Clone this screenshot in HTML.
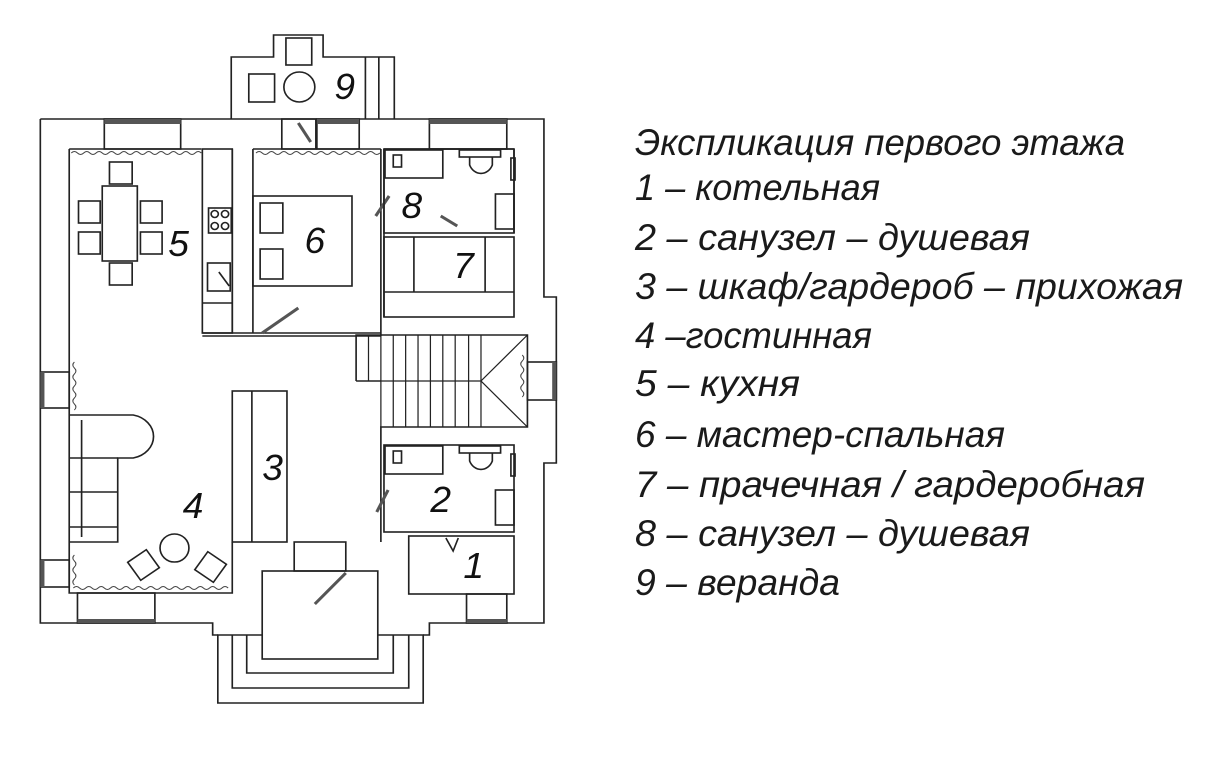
<!DOCTYPE html>
<html><head><meta charset="utf-8"><style>
html,body{margin:0;padding:0;background:#fff}
svg{display:block}
.t{font-family:"Liberation Sans","DejaVu Sans",sans-serif;font-style:italic;font-size:37px;fill:#1a1a1a}
.n{font-family:"Liberation Sans",sans-serif;font-style:italic;font-size:36px;fill:#111}
</style></head><body>
<svg width="1226" height="758" viewBox="0 0 1226 758" xmlns="http://www.w3.org/2000/svg">
<g transform="translate(30 0) scale(1.032 1) translate(-30 0)">
<g fill="none" stroke="#222" stroke-width="1.6">
<!-- veranda -->
<path d="M225 119 V57 H266 V35 H314 V57 H383 V119"/>
<line x1="355" y1="57" x2="355" y2="119"/><line x1="368" y1="57" x2="368" y2="119"/>
<rect x="278" y="38" width="25" height="27"/><rect x="242" y="74" width="25" height="28"/>
<circle cx="291" cy="87" r="15"/>
<!-- outer wall -->
<path d="M40 119 H528 V297 H540 V463 H528 V623 H417 V635 H411"/>
<path d="M40 119 V623 H207 V635 H212"/>
<!-- inner walls -->
<path d="M68 149 V593 H226 V542"/>
<line x1="68" y1="149" x2="196" y2="149"/>
<line x1="246" y1="149" x2="370" y2="149"/>
<line x1="373" y1="149" x2="499" y2="149"/>
<path d="M499 149 V233"/>
<!-- windows top -->
<rect x="102" y="119" width="74" height="30"/><rect x="308" y="119" width="41" height="30"/><rect x="417" y="119" width="75" height="30"/>
<rect x="274" y="119" width="33" height="30"/>
<!-- kitchen -->
<rect x="197" y="149" width="29" height="184"/>
<line x1="197" y1="303" x2="226" y2="303"/>
<rect x="203" y="208" width="22" height="25"/>
<circle cx="209" cy="214" r="3.5"/><circle cx="219" cy="214" r="3.5"/><circle cx="209" cy="226" r="3.5"/><circle cx="219" cy="226" r="3.5"/>
<rect x="202" y="263" width="22" height="28"/><line x1="213" y1="272" x2="223" y2="286"/>
<line x1="226" y1="149" x2="226" y2="333"/><line x1="246" y1="149" x2="246" y2="333"/>
<!-- dining -->
<rect x="100" y="186" width="34" height="75"/>
<rect x="107" y="162" width="22" height="22"/><rect x="107" y="263" width="22" height="22"/>
<rect x="77" y="201" width="21" height="22"/><rect x="77" y="232" width="21" height="22"/>
<rect x="137" y="201" width="21" height="22"/><rect x="137" y="232" width="21" height="22"/>
<!-- bedroom -->
<rect x="246" y="196" width="96" height="90"/>
<rect x="253" y="203" width="22" height="30"/><rect x="253" y="249" width="22" height="30"/>
<line x1="197" y1="333" x2="370" y2="333"/><line x1="197" y1="336" x2="370" y2="336"/>
<line x1="370" y1="149" x2="370" y2="336"/><line x1="373" y1="149" x2="373" y2="317"/>
<line x1="255" y1="333" x2="290" y2="308" stroke-width="3" stroke="#555"/>
<line x1="365" y1="216" x2="378" y2="196" stroke-width="3" stroke="#555"/>
<line x1="290" y1="123" x2="302" y2="142" stroke-width="3" stroke="#555"/>
<!-- bath 8 -->
<rect x="373" y="149" width="126" height="84"/>
<rect x="374" y="150" width="56" height="28"/><rect x="382" y="155" width="8" height="12"/>
<rect x="446" y="150" width="40" height="7"/><path d="M456 157 V165 A12 14 0 0 0 478 165 V157"/>
<rect x="481" y="194" width="18" height="35"/><rect x="496" y="158" width="4" height="22"/>
<line x1="428" y1="216" x2="444" y2="226" stroke-width="3" stroke="#555"/>
<!-- room 7 -->
<rect x="373" y="237" width="126" height="80"/>
<line x1="402" y1="237" x2="402" y2="292"/><line x1="471" y1="237" x2="471" y2="292"/><line x1="373" y1="292" x2="499" y2="292"/>
<!-- stairs -->
<path d="M346 381 V335 H512 V427 H370 V542"/>
<line x1="346" y1="381" x2="370" y2="381"/>
<g stroke-width="1.2">
<line x1="358" y1="335" x2="358" y2="381"/><line x1="370" y1="335" x2="370" y2="427"/><line x1="382" y1="335" x2="382" y2="427"/><line x1="394" y1="335" x2="394" y2="427"/><line x1="406" y1="335" x2="406" y2="427"/><line x1="418" y1="335" x2="418" y2="427"/><line x1="430" y1="335" x2="430" y2="427"/><line x1="442" y1="335" x2="442" y2="427"/><line x1="455" y1="335" x2="455" y2="427"/><line x1="467" y1="335" x2="467" y2="427"/>
<line x1="370" y1="381" x2="467" y2="381"/>
<path d="M512 335 L467 381 L512 427"/>
</g>
<rect x="512" y="362" width="28" height="38"/>
<!-- left windows -->
<rect x="40" y="372" width="28" height="36"/><rect x="40" y="560" width="28" height="27"/>
<!-- sofa -->
<path d="M68 415 H130 A25 22 0 0 1 130 458 H115 V542 H68"/>
<line x1="80" y1="420" x2="80" y2="537"/><line x1="68" y1="458" x2="115" y2="458"/><line x1="68" y1="492" x2="115" y2="492"/><line x1="68" y1="527" x2="115" y2="527"/>
<circle cx="170" cy="548" r="14"/>
<rect x="-11" y="-11" width="22" height="22" transform="translate(140 565) rotate(-35)"/>
<rect x="-11" y="-11" width="22" height="22" transform="translate(205 567) rotate(35)"/>
<!-- cabinet 3 -->
<rect x="226" y="391" width="53" height="151"/><line x1="245" y1="391" x2="245" y2="542"/>
<!-- room 2 -->
<rect x="373" y="445" width="126" height="87"/>
<rect x="374" y="446" width="56" height="28"/><rect x="382" y="451" width="8" height="12"/>
<rect x="446" y="446" width="40" height="7"/><path d="M456 453 V461 A12 14 0 0 0 478 461 V453"/>
<rect x="481" y="490" width="18" height="35"/><rect x="496" y="454" width="4" height="22"/>
<line x1="366" y1="512" x2="377" y2="490" stroke-width="3" stroke="#555"/>
<!-- room 1 -->
<rect x="397" y="536" width="102" height="58"/>
<path d="M433 538 L440 551 L445 538"/>
<!-- bottom windows -->
<rect x="76" y="593" width="75" height="30"/><rect x="453" y="594" width="39" height="29"/>
<!-- entrance -->
<rect x="286" y="542" width="50" height="29"/>
<rect x="255" y="571" width="112" height="88"/>
<line x1="306" y1="604" x2="336" y2="573" stroke-width="3" stroke="#555"/>
<path d="M255 635 H212 V703 H411 V635 H367"/>
<path d="M226 635 V688 H397 V635"/><path d="M240 635 V673 H382 V635"/>
</g>
<!-- dark window bands -->
<g fill="#555">
<rect x="102" y="119" width="74" height="5"/><rect x="308" y="119" width="41" height="5"/><rect x="417" y="119" width="75" height="5"/>
<rect x="76" y="619" width="75" height="4"/><rect x="453" y="619" width="39" height="4"/>
<rect x="40" y="372" width="4" height="36"/><rect x="40" y="560" width="4" height="27"/><rect x="536" y="362" width="4" height="38"/>
</g>
<!-- curtains -->
<g fill="none" stroke="#444" stroke-width="1">
<path d="M70 153 q3 -3 6 0 t6 0 t6 0 t6 0 t6 0 t6 0 t6 0 t6 0 t6 0 t6 0 t6 0 t6 0 t6 0 t6 0 t6 0 t6 0 t6 0 t6 0 t6 0 t6 0 t6 0"/>
<path d="M249 153 q3 -3 6 0 t6 0 t6 0 t6 0 t6 0 t6 0 t6 0 t6 0 t6 0 t6 0 t6 0 t6 0 t6 0 t6 0 t6 0 t6 0 t6 0 t6 0 t6 0 t6 0"/>
<path d="M72 588 q3 -3 6 0 t6 0 t6 0 t6 0 t6 0 t6 0 t6 0 t6 0 t6 0 t6 0 t6 0 t6 0 t6 0 t6 0 t6 0 t6 0 t6 0 t6 0 t6 0 t6 0 t6 0 t6 0 t6 0 t6 0 t6 0"/>
<path d="M73 362 q-3 3 0 6 t0 6 t0 6 t0 6 t0 6 t0 6 t0 6 t0 6"/>
<path d="M73 555 q-3 3 0 6 t0 6 t0 6 t0 6 t0 6"/>
<path d="M507 355 q3 3 0 6 t0 6 t0 6 t0 6 t0 6 t0 6 t0 6"/>
</g>
<!-- room numbers -->
<text class="n" x="325" y="99">9</text>
<text class="n" x="164" y="256">5</text>
<text class="n" x="296" y="253">6</text>
<text class="n" x="390" y="218">8</text>
<text class="n" x="440" y="278">7</text>
<text class="n" x="255" y="480">3</text>
<text class="n" x="178" y="518">4</text>
<text class="n" x="418" y="512">2</text>
<text class="n" x="450" y="578">1</text>
</g>
<!-- legend -->
<text class="t" x="635" y="155" textLength="490" lengthAdjust="spacingAndGlyphs">Экспликация первого этажа</text>
<text class="t" x="635" y="200" textLength="245" lengthAdjust="spacingAndGlyphs">1 – котельная</text>
<text class="t" x="635" y="250" textLength="395" lengthAdjust="spacingAndGlyphs">2 – санузел – душевая</text>
<text class="t" x="635" y="299" textLength="548" lengthAdjust="spacingAndGlyphs">3 – шкаф/гардероб – прихожая</text>
<text class="t" x="635" y="348" textLength="237" lengthAdjust="spacingAndGlyphs">4 –гостинная</text>
<text class="t" x="635" y="396" textLength="165" lengthAdjust="spacingAndGlyphs">5 – кухня</text>
<text class="t" x="635" y="447" textLength="370" lengthAdjust="spacingAndGlyphs">6 – мастер-спальная</text>
<text class="t" x="635" y="497" textLength="510" lengthAdjust="spacingAndGlyphs">7 – прачечная / гардеробная</text>
<text class="t" x="635" y="546" textLength="395" lengthAdjust="spacingAndGlyphs">8 – санузел – душевая</text>
<text class="t" x="635" y="595" textLength="205" lengthAdjust="spacingAndGlyphs">9 – веранда</text>
</svg>
</body></html>
